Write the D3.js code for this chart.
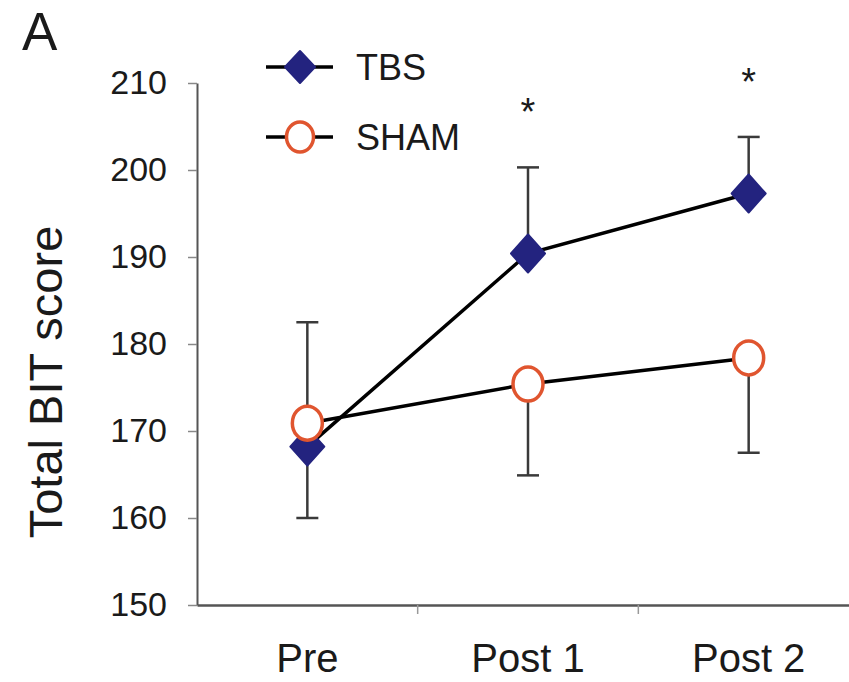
<!DOCTYPE html>
<html>
<head>
<meta charset="utf-8">
<script src="https://cdn.jsdelivr.net/npm/d3@7"></script>
<style>
  html, body { margin: 0; padding: 0; background: #fff; }
  svg { display: block; }
  text { font-family: "Liberation Sans", Arial, Helvetica, sans-serif; }
</style>
</head>
<body>
<svg id="chart" width="849" height="682"></svg>
<script>
// ---- Data ----
const categories = ["Pre", "Post 1", "Post 2"];
const tbsMean = [168.2, 190.4, 197.3];
const shamMean = [170.9, 175.4, 178.4];
const tbsErrEnd = [160.0, 200.3, 203.8];   // end of drawn error bar
const shamErrEnd = [182.5, 164.9, 167.5];
const significance = ["", "*", "*"];
const yTicks = [150, 160, 170, 180, 190, 200, 210];
const seriesNames = ["TBS", "SHAM"];
const panelLabel = "A";
const yTitle = "Total BIT score";

// ---- Styles ----
const navy = "#23237f";
const red = "#e0552f";
const axisColor = "#555";
const textColor = "#1a1a1a";

const svg = d3.select("#chart");
const x = d3.scaleBand().domain(categories).range([197, 859]);
const y = d3.scaleLinear().domain([150, 210]).range([605, 83]);
const cx = c => x(c) + x.bandwidth() / 2;

// Y axis
const yAxis = svg.append("g")
  .attr("transform", `translate(${x.range()[0]},0)`)
  .call(d3.axisLeft(y).tickValues(yTicks).tickSize(9).tickSizeOuter(0).tickPadding(21));
yAxis.select(".domain").attr("stroke", axisColor).attr("stroke-width", 2);
yAxis.selectAll(".tick line").attr("stroke", "#888").attr("stroke-width", 1.5);
yAxis.selectAll(".tick text")
  .attr("fill", textColor)
  .style("font-size", "34px")
  .style("font-family", "'Liberation Sans', Arial, sans-serif");

// X axis
const xAxis = svg.append("g")
  .attr("transform", `translate(0,${y(150)})`)
  .call(d3.axisBottom(x).tickSize(0).tickSizeOuter(0).tickPadding(39));
xAxis.select(".domain").attr("stroke", axisColor).attr("stroke-width", 2.5);
xAxis.selectAll(".tick text")
  .attr("fill", textColor)
  .style("font-size", "40px")
  .style("font-family", "'Liberation Sans', Arial, sans-serif");
// category boundary ticks
svg.append("g").selectAll("line")
  .data(categories.slice(1))
  .join("line")
  .attr("x1", d => x(d)).attr("x2", d => x(d))
  .attr("y1", y(150)).attr("y2", y(150) + 9)
  .attr("stroke", "#999").attr("stroke-width", 1.5);

// Error bars
function errorBars(means, ends) {
  const g = svg.append("g").attr("stroke", "#3a3a3a").attr("stroke-width", 2.5);
  categories.forEach((c, i) => {
    g.append("line").attr("x1", cx(c)).attr("x2", cx(c))
      .attr("y1", y(means[i])).attr("y2", y(ends[i]));
    g.append("line").attr("x1", cx(c) - 11).attr("x2", cx(c) + 11)
      .attr("y1", y(ends[i])).attr("y2", y(ends[i]));
  });
}
errorBars(tbsMean, tbsErrEnd);
errorBars(shamMean, shamErrEnd);

// Lines
const line = d3.line().x((d, i) => cx(categories[i])).y(d => y(d));
svg.append("path").datum(tbsMean).attr("d", line)
  .attr("fill", "none").attr("stroke", "#000").attr("stroke-width", 3.5);
svg.append("path").datum(shamMean).attr("d", line)
  .attr("fill", "none").attr("stroke", "#000").attr("stroke-width", 3.5);

// Markers
function diamond(g, px, py, hw, hh) {
  g.append("path")
    .attr("d", `M${px},${py - hh}L${px + hw},${py}L${px},${py + hh}L${px - hw},${py}Z`)
    .attr("fill", navy).attr("stroke", navy).attr("stroke-width", 2).attr("stroke-linejoin", "round");
}
function ring(g, px, py, rx, ry) {
  g.append("ellipse").attr("cx", px).attr("cy", py).attr("rx", rx).attr("ry", ry)
    .attr("fill", "#fff").attr("stroke", red).attr("stroke-width", 3.5);
}
const mk = svg.append("g");
tbsMean.forEach((v, i) => diamond(mk, cx(categories[i]), y(v), 17, 19));
shamMean.forEach((v, i) => ring(mk, cx(categories[i]), y(v), 15, 17));

// Significance asterisks
svg.append("g").selectAll("text")
  .data(significance)
  .join("text")
  .attr("x", (d, i) => cx(categories[i]))
  .attr("y", (d, i) => y(Math.max(tbsErrEnd[i], shamErrEnd[i])) - 42)
  .attr("text-anchor", "middle")
  .attr("fill", textColor)
  .style("font-size", "38px")
  .text(d => d);

// Legend
const legend = svg.append("g");
seriesNames.forEach((name, i) => {
  const ly = 67 + i * 70;
  legend.append("line").attr("x1", 266).attr("x2", 333).attr("y1", ly).attr("y2", ly)
    .attr("stroke", "#000").attr("stroke-width", 3.5);
  if (i === 0) diamond(legend, 300, ly, 15, 16);
  else ring(legend, 300, ly, 13.5, 15);
  legend.append("text").attr("x", 356).attr("y", ly + 12.5)
    .attr("fill", textColor).style("font-size", "36px").text(name);
});

// Y title
svg.append("text")
  .attr("transform", "translate(62,382) rotate(-90)")
  .attr("text-anchor", "middle")
  .attr("fill", textColor)
  .style("font-size", "47px")
  .text(yTitle);

// Panel label
svg.append("text").attr("x", 22).attr("y", 50)
  .attr("fill", textColor).style("font-size", "53px").text(panelLabel);
</script>
</body>
</html>
